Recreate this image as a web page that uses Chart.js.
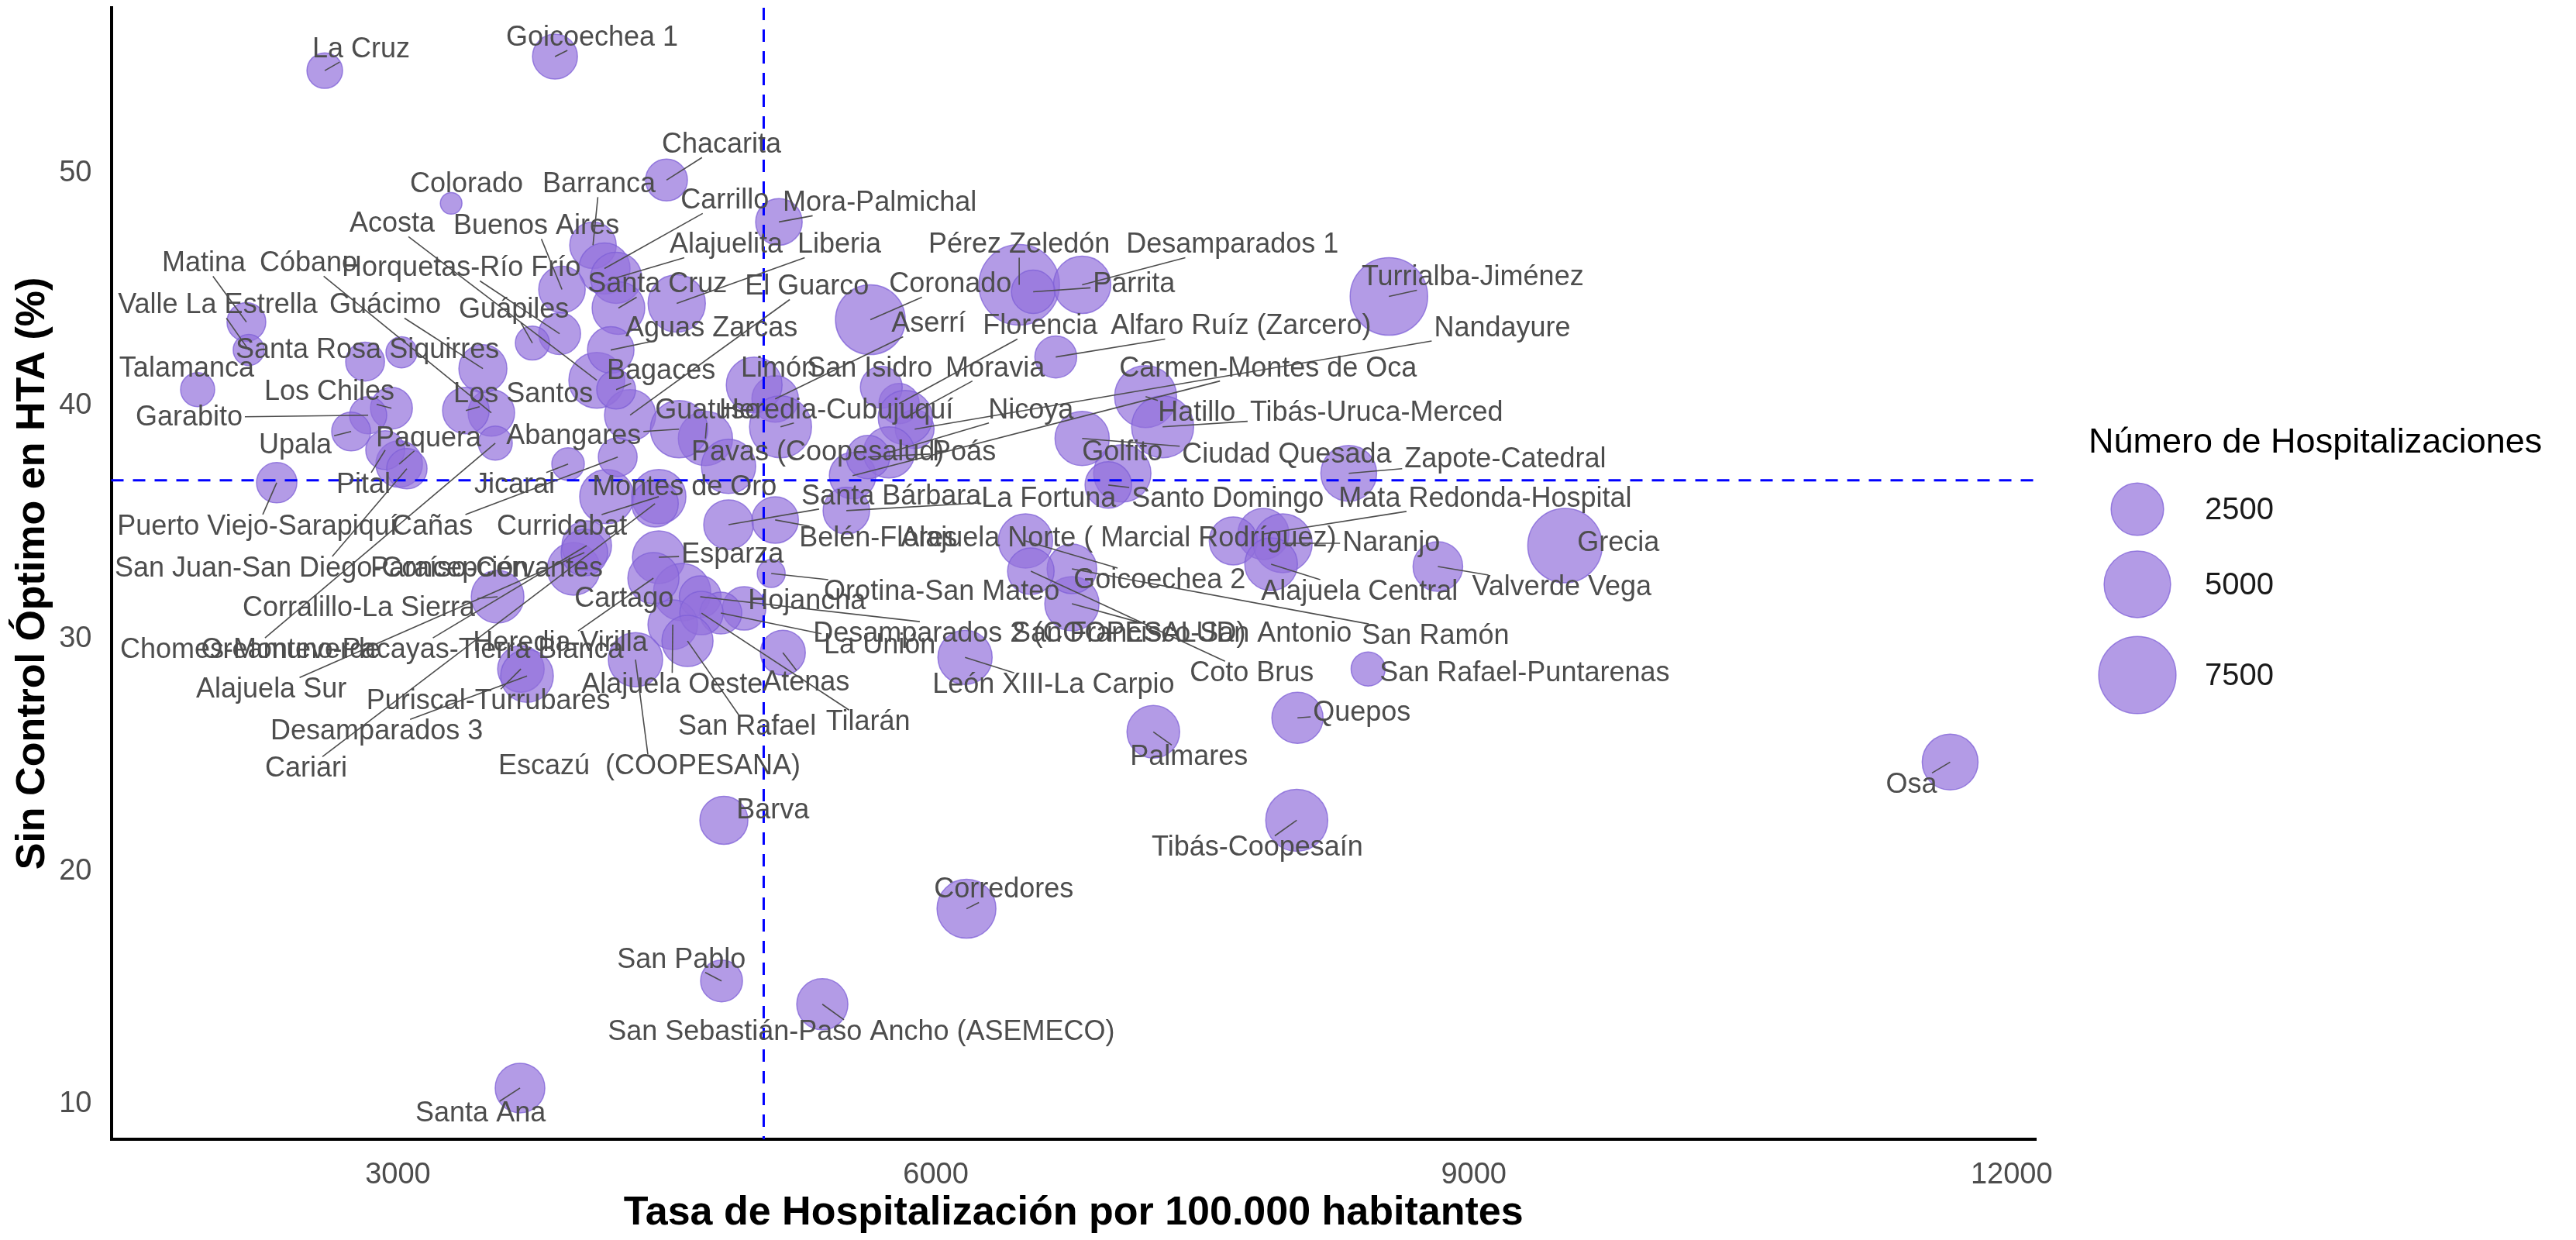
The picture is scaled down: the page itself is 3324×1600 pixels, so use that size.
<!DOCTYPE html>
<html>
<head>
<meta charset="utf-8">
<script src="https://cdn.jsdelivr.net/npm/chart.js@4"></script>
<style>
  html, body { margin: 0; padding: 0; background: #fff; }
  #wrap { width: 3324px; height: 1600px; }
</style>
</head>
<body>
<div id="wrap"><canvas id="chart"></canvas></div>
<script>
const areas = [
    "La Cruz", "Goicoechea 1", "Chacarita", "Colorado", "Barranca", "Carrillo", "Mora-Palmichal", "Acosta", "Buenos Aires", "Alajuelita",
    "Liberia", "Pérez Zeledón", "Desamparados 1", "Matina", "Cóbano", "Horquetas-Río Frío", "Santa Cruz", "El Guarco", "Coronado", "Parrita",
    "Turrialba-Jiménez", "Valle La Estrella", "Guácimo", "Guápiles", "Aguas Zarcas", "Aserrí", "Florencia", "Alfaro Ruíz (Zarcero)", "Nandayure", "Santa Rosa",
    "Siquirres", "Bagaces", "Limón", "San Isidro", "Moravia", "Carmen-Montes de Oca", "Talamanca", "Los Chiles", "Los Santos", "Guatuso",
    "Heredia-Cubujuquí", "Nicoya", "Hatillo", "Tibás-Uruca-Merced", "Garabito", "Paquera", "Abangares", "Pavas (Coopesalud)", "Poás", "Golfito",
    "Ciudad Quesada", "Zapote-Catedral", "Upala", "Pital", "Jicaral", "Montes de Oro", "Santa Bárbara", "La Fortuna", "Santo Domingo", "Mata Redonda-Hospital",
    "Puerto Viejo-Sarapiquí", "Cañas", "Curridabat", "Belén-Flores", "Alajuela Norte ( Marcial Rodríguez)", "Naranjo", "Grecia", "San Juan-San Diego-Concepción", "Paraíso-Cervantes", "Esparza",
    "Goicoechea 2", "Alajuela Central", "Valverde Vega", "Corralillo-La Sierra", "Cartago", "Hojancha", "Orotina-San Mateo", "Desamparados 2 (COOPESALUD)", "San Francisco-San Antonio", "San Ramón",
    "La Unión", "Heredia-Virilla", "Chomes-Monteverde", "Oreamuno-Pacayas-Tierra Blanca", "Alajuela Sur", "Alajuela Oeste", "Atenas", "Tilarán", "San Rafael", "Puriscal-Turrubares",
    "Desamparados 3", "Escazú  (COOPESANA)", "Cariari", "León XIII-La Carpio", "Coto Brus", "San Rafael-Puntarenas", "Quepos", "Palmares", "Osa", "Tibás-Coopesaín",
    "Barva", "Corredores", "San Pablo", "San Sebastián-Paso Ancho (ASEMECO)", "Santa Ana"
];

// Tasa de hospitalización por 100.000 habitantes
const tasa = [
    2592, 3876, 4498, 3297, 4088, 4152, 5125, 4109, 3915, 4217,
    4555, 6465, 6816, 2155, 3521, 3902, 4230, 4295, 5635, 6543,
    8527, 2168, 3474, 3750, 4187, 5104, 5795, 6669, 5882, 2817,
    3020, 4217, 4987, 5696, 5830, 5536, 1883, 2964, 3379, 4715,
    5134, 5739, 7170, 7265, 2834, 3007, 4568, 4844, 5622, 7040,
    6816, 8303, 2739, 2929, 3949, 4165, 4844, 5501, 6962, 7827,
    2324, 4226, 4455, 5104, 7659, 7935, 9509, 3050, 3980, 4455,
    6500, 7870, 8800, 3556, 4585, 4931, 5082, 4686, 6759, 6759,
    4801, 4425, 3543, 4053, 4040, 4533, 5147, 4693, 4615, 3686,
    3720, 4325, 4434, 6163, 6530, 8411, 8017, 7213, 11657, 8013,
    4818, 6171, 4805, 5367, 3681
];

// Sin control óptimo en HTA (%)
const sinControl = [
    54.4, 55.0, 49.7, 48.7, 46.9, 45.9, 47.9, 41.1, 45.0, 45.5,
    44.4, 45.2, 45.2, 43.6, 39.7, 43.1, 44.2, 39.6, 43.7, 44.9,
    44.7, 42.4, 41.6, 42.7, 42.4, 40.3, 40.1, 42.1, 39.0, 41.9,
    42.3, 40.7, 40.9, 40.8, 39.5, 37.0, 40.7, 39.9, 39.8, 38.6,
    39.1, 38.0, 40.4, 39.1, 39.6, 37.5, 39.0, 37.4, 37.8, 37.1,
    38.6, 37.1, 38.9, 38.1, 37.5, 36.1, 34.9, 35.5, 36.6, 34.5,
    36.7, 37.8, 36.1, 35.1, 34.2, 34.1, 34.0, 37.3, 33.0, 33.5,
    34.2, 33.2, 33.1, 31.8, 32.0, 31.3, 32.8, 31.8, 31.5, 33.0,
    31.1, 32.6, 38.4, 34.0, 33.7, 30.6, 29.4, 31.1, 29.9, 28.7,
    28.4, 29.1, 35.8, 29.2, 32.9, 28.7, 26.6, 26.0, 24.7, 22.2,
    22.2, 18.4, 15.3, 14.3, 10.7
];

// Número de hospitalizaciones
const hospitalizaciones = [
    630, 1510, 1180, 20, 1700, 2310, 1700, 3020, 1700, 2310,
    3270, 8380, 3270, 890, 1700, 1180, 2530, 2310, 5700, 1340,
    7560, 340, 1890, 520, 1700, 1700, 1030, 1180, 890, 890,
    340, 890, 3020, 1180, 2770, 1700, 520, 1180, 1700, 2770,
    4110, 2310, 4110, 4110, 750, 1700, 3270, 2770, 1340, 3270,
    2770, 3020, 890, 890, 420, 2770, 2100, 1700, 1700, 2310,
    1030, 890, 2770, 1700, 1890, 3540, 6790, 1030, 2530, 2530,
    2770, 2530, 2100, 2530, 3270, 1340, 190, 1180, 2770, 2100,
    1180, 2310, 520, 2100, 1700, 2100, 1510, 1340, 2310, 1700,
    2530, 2770, 1700, 2770, 1700, 520, 2310, 2530, 3020, 4110,
    1890, 3540, 1180, 2310, 2100
];

// where each repelled label sits, in axis units
const labelTasa = [
    2795, 4083, 4805, 3383, 4122, 4823, 5687, 2968, 3772, 4831,
    5462, 6465, 7654, 1918, 2501, 3353, 4447, 5281, 6081, 7105,
    8994, 1995, 2929, 3647, 4749, 5960, 6582, 7702, 9159, 2501,
    3258, 4468, 5125, 5631, 6331, 7853, 1822, 2618, 3699, 4728,
    5445, 6530, 7455, 8458, 1835, 3171, 3980, 5341, 6158, 7040,
    7957, 9176, 2428, 2808, 3651, 4598, 5752, 6630, 7628, 9064,
    2216, 3193, 3915, 5679, 7019, 8540, 9807, 2575, 3495, 4866,
    7248, 8363, 9491, 2782, 4261, 5281, 6033, 6522, 7373, 8787,
    5687, 3906, 2177, 3080, 2294, 4529, 5277, 5622, 4948, 3504,
    2882, 4403, 2488, 6656, 7762, 9284, 8376, 7412, 11441, 7793,
    5091, 6379, 4581, 5584, 3461
];
const labelSinControl = [
    55.3, 55.8, 51.2, 49.5, 49.5, 48.8, 48.7, 47.8, 47.7, 46.9,
    46.9, 46.9, 46.9, 46.1, 46.1, 45.9, 45.2, 45.1, 45.2, 45.2,
    45.5, 44.3, 44.3, 44.1, 43.3, 43.5, 43.4, 43.4, 43.3, 42.4,
    42.4, 41.5, 41.6, 41.6, 41.6, 41.6, 41.6, 40.6, 40.5, 39.8,
    39.8, 39.8, 39.7, 39.7, 39.5, 38.6, 38.7, 38.0, 38.0, 38.0,
    37.9, 37.7, 38.3, 36.6, 36.6, 36.5, 36.1, 36.0, 36.0, 36.0,
    34.8, 34.8, 34.8, 34.3, 34.3, 34.1, 34.1, 33.0, 33.0, 33.6,
    32.5, 32.0, 32.2, 31.3, 31.7, 31.6, 32.0, 30.2, 30.2, 30.1,
    29.7, 29.8, 29.5, 29.5, 27.8, 28.0, 28.1, 26.4, 26.2, 27.3,
    26.0, 24.5, 24.4, 28.0, 28.5, 28.5, 26.8, 24.9, 23.7, 21.0,
    22.6, 19.2, 16.2, 13.1, 9.6
];

const xTicks = [3000, 6000, 9000, 12000];
const yTicks = [10, 20, 30, 40, 50];
const legendValues = [2500, 5000, 7500];
const meanTasa = 5040;
const meanSinControl = 36.8;

const fillPurple = "rgba(147,112,219,0.7)";
const edgePurple = "rgba(125,95,215,0.75)";
const textGrey = "#4D4D4D";

// ggplot-like area scale for bubble size
function bubbleRadius(v) {
    return 12 + 0.437 * Math.sqrt(v);
}

const points = tasa.map((t, i) => ({
    x: t,
    y: sinControl[i],
    r: bubbleRadius(hospitalizaciones[i])
}));

const overlay = {
    id: "overlay",
    afterDatasetsDraw(chart) {
        const ctx = chart.ctx;
        const xs = chart.scales.x;
        const ys = chart.scales.y;
        const area = chart.chartArea;

        // reference lines
        ctx.save();
        ctx.strokeStyle = "#0000FF";
        ctx.lineWidth = 3;
        ctx.setLineDash([16, 12]);
        const vx = xs.getPixelForValue(meanTasa);
        const hy = ys.getPixelForValue(meanSinControl);
        ctx.beginPath();
        ctx.moveTo(vx, area.top);
        ctx.lineTo(vx, area.bottom);
        ctx.moveTo(area.left, hy);
        ctx.lineTo(area.right, hy);
        ctx.stroke();
        ctx.restore();

        // labels with segments
        ctx.save();
        ctx.font = "36px 'Liberation Sans', Arial, sans-serif";
        const boxes = areas.map((name, i) => {
            const w = ctx.measureText(name).width;
            return {
                lx: xs.getPixelForValue(labelTasa[i]),
                ly: ys.getPixelForValue(labelSinControl[i]),
                px: xs.getPixelForValue(tasa[i]),
                py: ys.getPixelForValue(sinControl[i]),
                hw: w / 2 + 3,
                hh: 16
            };
        });

        ctx.strokeStyle = textGrey;
        ctx.lineWidth = 1.6;
        boxes.forEach(b => {
            const dx = b.px - b.lx;
            const dy = b.py - b.ly;
            if (Math.abs(dx) <= b.hw && Math.abs(dy) <= b.hh) return;
            const tx = dx === 0 ? Infinity : b.hw / Math.abs(dx);
            const ty = dy === 0 ? Infinity : b.hh / Math.abs(dy);
            const t = Math.min(tx, ty);
            const sx = b.lx + dx * t;
            const sy = b.ly + dy * t;
            if (Math.hypot(b.px - sx, b.py - sy) < 14) return;
            ctx.beginPath();
            ctx.moveTo(sx, sy);
            ctx.lineTo(b.px, b.py);
            ctx.stroke();
        });

        ctx.fillStyle = textGrey;
        ctx.textAlign = "center";
        ctx.textBaseline = "middle";
        areas.forEach((name, i) => {
            ctx.fillText(name, boxes[i].lx, boxes[i].ly);
        });
        ctx.restore();
    },
    afterDraw(chart) {
        // size legend
        const ctx = chart.ctx;
        ctx.save();
        ctx.fillStyle = "#000";
        ctx.textAlign = "left";
        ctx.textBaseline = "middle";
        ctx.font = "45px 'Liberation Sans', Arial, sans-serif";
        ctx.fillText("Número de Hospitalizaciones", 2695, 572);

        const keyY = [657, 754, 871];
        legendValues.forEach((v, i) => {
            ctx.beginPath();
            ctx.arc(2758, keyY[i], bubbleRadius(v), 0, Math.PI * 2);
            ctx.fillStyle = fillPurple;
            ctx.fill();
            ctx.strokeStyle = edgePurple;
            ctx.lineWidth = 1.5;
            ctx.stroke();
            ctx.fillStyle = "#1A1A1A";
            ctx.font = "40px 'Liberation Sans', Arial, sans-serif";
            ctx.fillText(String(v), 2845, keyY[i] + 2);
        });
        ctx.restore();
    }
};

Chart.defaults.font.family = "'Liberation Sans', Arial, sans-serif";

new Chart(document.getElementById("chart"), {
    type: "bubble",
    data: {
        datasets: [{
            data: points,
            backgroundColor: fillPurple,
            borderColor: edgePurple,
            borderWidth: 1.5,
            hoverRadius: 0,
            clip: false
        }]
    },
    options: {
        responsive: true,
        maintainAspectRatio: false,
        devicePixelRatio: 1,
        animation: false,
        events: [],
        layout: {
            autoPadding: false,
            padding: { top: 10, right: 697, left: 0, bottom: 0 }
        },
        plugins: {
            legend: { display: false },
            tooltip: { enabled: false }
        },
        scales: {
            x: {
                type: "linear",
                min: 1401,
                max: 12135,
                afterFit: s => {
                    s.height = 130;
                    s.paddingLeft = 0;
                    s.paddingRight = 0;
                },
                afterBuildTicks: s => { s.ticks = xTicks.map(v => ({ value: v })); },
                grid: { display: false, drawTicks: false },
                border: { display: true, color: "#000", width: 4 },
                ticks: {
                    color: textGrey,
                    font: { size: 38 },
                    padding: 24,
                    maxRotation: 0,
                    autoSkip: false,
                    callback: v => String(v)
                },
                title: {
                    display: true,
                    text: "Tasa de Hospitalización por 100.000 habitantes",
                    color: "#000",
                    font: { size: 52, weight: "bold" },
                    padding: { top: 3, bottom: 3 }
                }
            },
            y: {
                type: "linear",
                min: 8.5,
                max: 57.1,
                afterFit: s => {
                    s.width = 143.5;
                    s.paddingTop = 0;
                    s.paddingBottom = 0;
                },
                afterBuildTicks: s => { s.ticks = yTicks.map(v => ({ value: v })); },
                grid: { display: false, drawTicks: false },
                border: { display: true, color: "#000", width: 4 },
                ticks: {
                    color: textGrey,
                    font: { size: 38 },
                    padding: 25,
                    callback: v => String(v)
                },
                title: {
                    display: true,
                    text: "Sin Control Óptimo en HTA (%)",
                    color: "#000",
                    font: { size: 52, weight: "bold" },
                    padding: { top: 11, bottom: 0 }
                }
            }
        }
    },
    plugins: [overlay]
});
</script>
</body>
</html>
